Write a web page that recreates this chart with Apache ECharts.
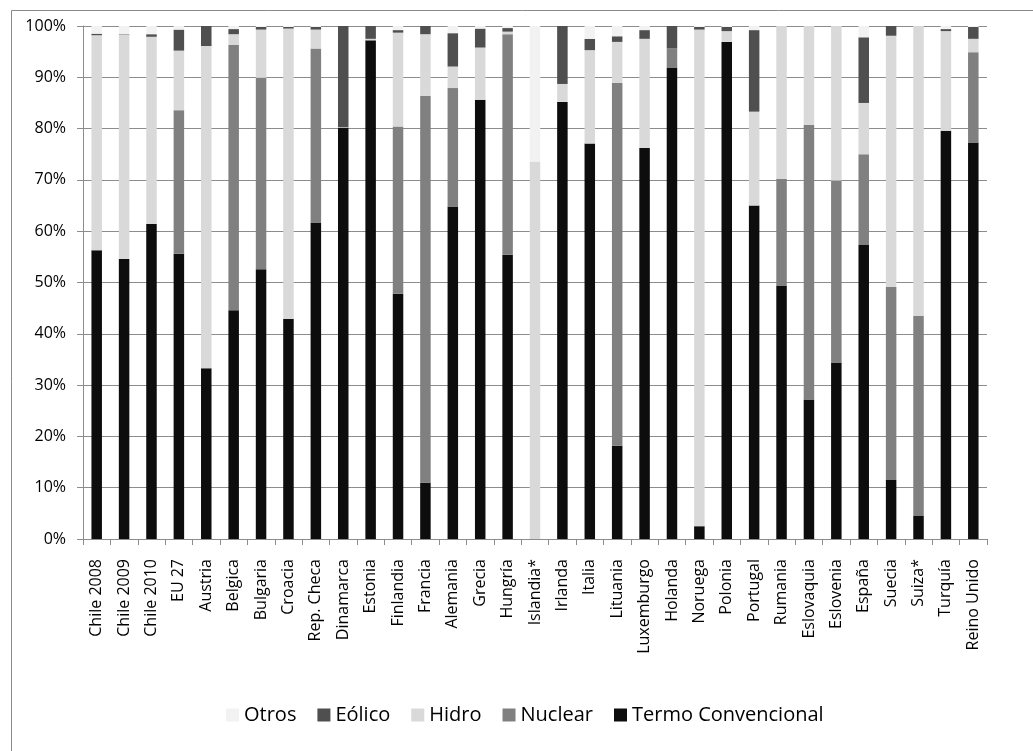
<!DOCTYPE html>
<html>
<head>
<meta charset="utf-8">
<script src="https://cdn.jsdelivr.net/npm/echarts@6/dist/echarts.min.js"></script>
<style>
  html, body { margin: 0; padding: 0; background: #fff; }
  #chart { width: 1033px; height: 751px; }
</style>
</head>
<body>
<div id="chart"></div>
<script>
// Generation mix by source (% of total), per country
const categories = ['Chile 2008','Chile 2009','Chile 2010','EU 27','Austria','Belgica','Bulgaria','Croacia','Rep. Checa','Dinamarca','Estonia','Finlandia','Francia','Alemania','Grecia','Hungría','Islandia*','Irlanda','Italia','Lituania','Luxemburgo','Holanda','Noruega','Polonia','Portugal','Rumania','Eslovaquia','Eslovenia','España','Suecia','Suiza*','Turquía','Reino Unido'];

const termo   = [56.3,54.6,61.4,55.6,33.3,44.6,52.6,42.9,61.7,80.2,97.2,47.8,11.0,64.8,85.6,55.4,0,85.2,77.1,18.2,76.2,91.9,2.5,96.9,65.0,49.4,27.2,34.4,57.3,11.5,4.5,79.6,77.3];
const nuclear = [0,0,0,28.0,0,51.7,37.3,0,33.9,0,0,32.6,75.4,23.1,0,43.0,0,0,0,70.7,0,3.7,0,0,0,20.8,53.5,35.5,17.7,37.6,39.0,0,17.6];
const hidro   = [41.9,43.7,36.5,11.6,62.8,2.1,9.4,56.6,3.7,0.1,0.3,18.3,12.0,4.2,10.2,0.5,73.6,3.5,18.2,8.0,21.3,0,96.8,2.1,18.3,29.8,19.3,30.1,10.0,49.0,56.5,19.4,2.6];
const eolico  = [0.3,0.1,0.5,4.1,3.9,1.0,0.5,0.3,0.5,19.7,2.5,0.5,1.6,6.5,3.7,0.7,0,11.3,2.2,1.1,1.7,4.4,0.5,0.8,15.9,0,0,0,12.8,1.9,0,0.4,2.3];
const otros   = [1.5,1.6,1.6,0.7,0,0.6,0.2,0.2,0.2,0,0,0.8,0,1.4,0.5,0.4,26.4,0,2.5,2.0,0.8,0,0.2,0.2,0.8,0,0,0,2.2,0,0,0.6,0.2];

const legendOrder = ['Otros','Eólico','Hidro','Nuclear','Termo Convencional'];

const FONT = '"Open Sans", "DejaVu Sans", sans-serif';
const GRID_COLOR = '#8c8c8c';

function barSeries(name, data, color) {
  return {
    name: name,
    type: 'bar',
    stack: 'total',
    data: data,
    barWidth: 10.5,
    itemStyle: { color: color },
    emphasis: { disabled: true }
  };
}

const chart = echarts.init(document.getElementById('chart'), null, { renderer: 'canvas' });

chart.setOption({
  animation: false,
  backgroundColor: '#fff',
  textStyle: { fontFamily: FONT, color: '#000' },
  graphic: [{
    type: 'rect',
    shape: { x: 11.5, y: 10.5, width: 1040, height: 760 },
    style: { fill: 'none', stroke: '#8a8a8a', lineWidth: 1 },
    silent: true
  }],
  grid: { left: 83, right: 46, top: 26, bottom: 212, containLabel: false },
  legend: {
    data: legendOrder,
    left: 221,
    top: 700,
    itemWidth: 13,
    itemHeight: 13,
    itemGap: 21,
    icon: 'rect',
    textStyle: { fontFamily: FONT, fontSize: 20, color: '#000' }
  },
  xAxis: {
    type: 'category',
    data: categories,
    boundaryGap: true,
    axisLine: { lineStyle: { color: GRID_COLOR, width: 1 } },
    axisTick: { show: true, length: 6, lineStyle: { color: GRID_COLOR }, alignWithLabel: false },
    axisLabel: {
      interval: 0,
      rotate: 90,
      margin: 20,
      fontFamily: FONT,
      fontSize: 16,
      color: '#000'
    }
  },
  yAxis: {
    type: 'value',
    min: 0,
    max: 100,
    interval: 10,
    axisLine: { show: true, lineStyle: { color: GRID_COLOR, width: 1 } },
    axisTick: { show: true, length: 6, lineStyle: { color: GRID_COLOR } },
    splitLine: { show: true, lineStyle: { color: GRID_COLOR, width: 1 } },
    axisLabel: {
      formatter: '{value}%',
      margin: 17,
      fontFamily: FONT,
      fontSize: 16,
      color: '#000'
    }
  },
  series: [
    barSeries('Termo Convencional', termo, '#0d0d0d'),
    barSeries('Nuclear', nuclear, '#808080'),
    barSeries('Hidro', hidro, '#d9d9d9'),
    barSeries('Eólico', eolico, '#4f4f4f'),
    barSeries('Otros', otros, '#f2f2f2')
  ]
});
</script>
</body>
</html>
